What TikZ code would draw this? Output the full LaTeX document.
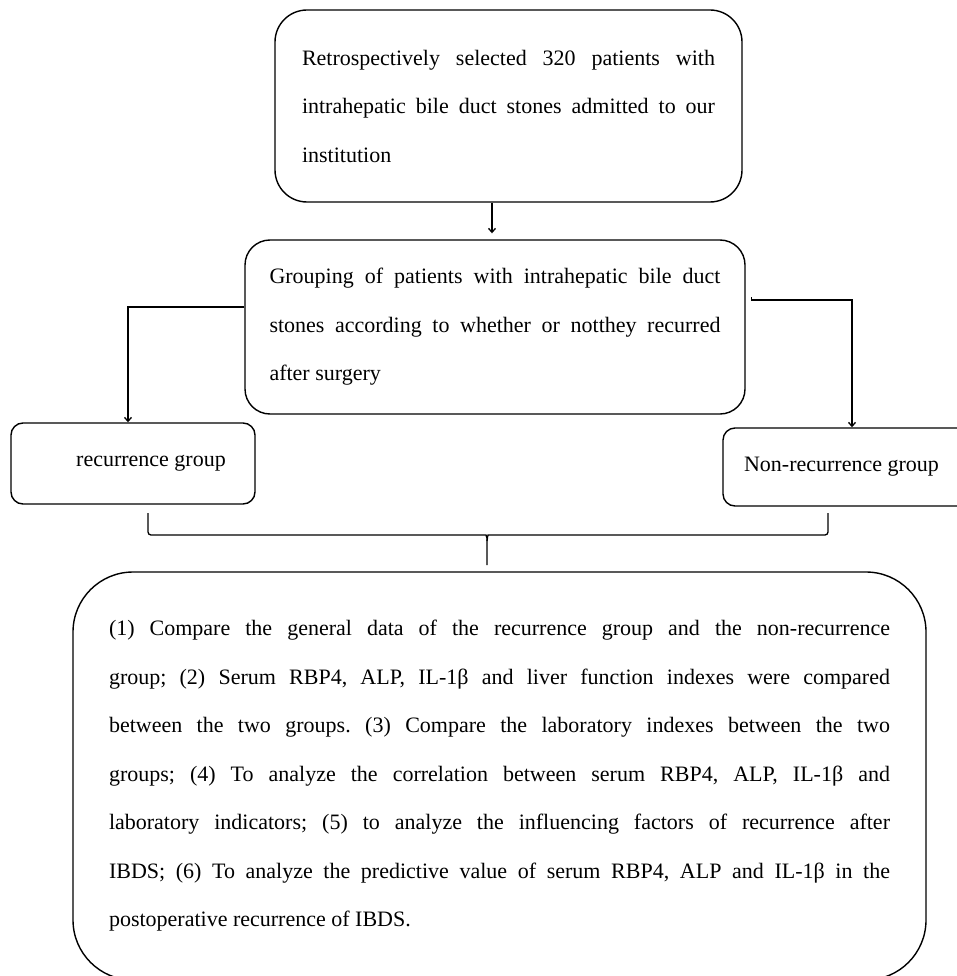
\documentclass[tikz,border=0pt]{standalone}
\usepackage{fontspec}
\setmainfont{Liberation Serif}
\usetikzlibrary{arrows.meta}
\newcommand{\fitline}[2]{\makebox[#1][s]{#2}}
\frenchspacing

\begin{document}
\begin{tikzpicture}[x=1pt,y=-1pt,>={Straight Barb[length=4pt,width=7pt]},
    box/.style={draw,line width=1.4pt,inner sep=0pt,align=left,font=\fontsize{22}{48.5}\selectfont},
    link/.style={line width=1.3pt}]
    \useasboundingbox (0,0) rectangle (957,976);
    \node[box,rounded corners=32pt,minimum width=467pt,minimum height=192pt] (start) at (508.5,106)
      {\fitline{413pt}{Retrospectively selected 320 patients with}\\
       \fitline{413pt}{intrahepatic bile duct stones admitted to our}\\
       institution};
    \node[box,rounded corners=25pt,minimum width=500pt,minimum height=174pt] (mid) at (495,327)
      {\fitline{451pt}{Grouping of patients with intrahepatic bile duct}\\
       \fitline{451pt}{stones according to whether or notthey recurred}\\
       after surgery};
    \node[box,rounded corners=12pt,minimum width=244pt,minimum height=81pt] (recur) at (133,463.5)
      {\hspace*{36pt}recurrence group};
    \node[box,rounded corners=12pt,minimum width=258pt,minimum height=78pt] (non) at (852,467)
      {Non-recurrence group\hspace*{21pt}};
    \node[box,rounded corners=60pt,minimum width=853pt,minimum height=408pt] (aims) at (499.5,776)
      {\fitline{781pt}{(1) Compare the general data of the recurrence group and the non-recurrence}\\
       \fitline{781pt}{group; (2) Serum RBP4, ALP, IL-1β and liver function indexes were compared}\\
       \fitline{781pt}{between the two groups. (3) Compare the laboratory indexes between the two}\\
       \fitline{781pt}{groups; (4) To analyze the correlation between serum RBP4, ALP, IL-1β and}\\
       \fitline{781pt}{laboratory indicators; (5) to analyze the influencing factors of recurrence after}\\
       \fitline{781pt}{IBDS; (6) To analyze the predictive value of serum RBP4, ALP and IL-1β in the}\\
       postoperative recurrence of IBDS.};
    \draw[link,->,shorten >=6pt] ([xshift=-16.5pt]start.south) -- ([xshift=-16.5pt]start.south |- mid.north);
    \draw[link,->] ([yshift=20pt]mid.west) -| ([xshift=-5pt]recur.north);
    \draw[link,->] ([xshift=6pt,yshift=30pt]mid.east) -- ++(0,3) -| (non.north);
    \coordinate (bl) at (148,513);
    \coordinate (br) at (828,513);
    \coordinate (bm) at (487,535);
    \coordinate (tip) at (487,565);
    \draw[link,rounded corners=3pt] (bl) |- ([xshift=-4pt]bm) to[out=0,in=90] ([yshift=-6pt]bm) -- (tip);
    \draw[link,rounded corners=3pt] (br) |- ([xshift=4pt]bm) to[out=180,in=90] ([yshift=-6pt]bm);
  \end{tikzpicture}
\end{document}
